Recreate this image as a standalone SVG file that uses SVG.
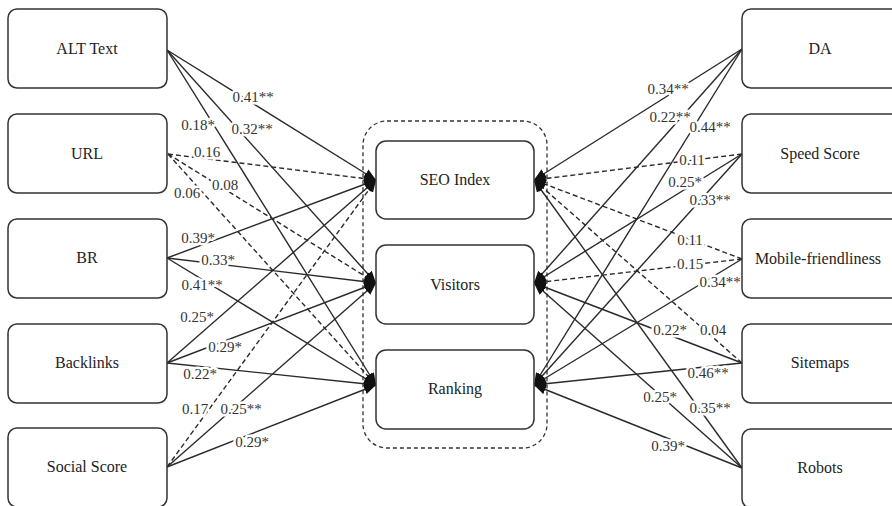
<svg xmlns="http://www.w3.org/2000/svg" width="892" height="506" viewBox="0 0 892 506">
<defs>
<marker id="ah" markerUnits="userSpaceOnUse" markerWidth="13" markerHeight="11" refX="12" refY="5" orient="auto">
<path d="M0,0 L12,5 L0,10 z" fill="#111"/>
</marker>
</defs>
<rect width="892" height="506" fill="#fff"/>
<rect id="group-frame" x="363" y="121" width="184" height="327" rx="24" fill="none" stroke="#333" stroke-width="1.3" stroke-dasharray="4,3"/>
<g id="connectors">
<g fill="none" stroke="#2a2a2a" stroke-width="1.4" marker-end="url(#ah)">
<line x1="167" y1="50" x2="376" y2="180"/>
<line x1="167" y1="50" x2="376" y2="283"/>
<line x1="167" y1="50" x2="376" y2="385"/>
<line x1="167" y1="258" x2="376" y2="180"/>
<line x1="167" y1="258" x2="376" y2="283"/>
<line x1="167" y1="258" x2="376" y2="385"/>
<line x1="167" y1="363" x2="376" y2="180"/>
<line x1="167" y1="363" x2="376" y2="283"/>
<line x1="167" y1="363" x2="376" y2="385"/>
<line x1="167" y1="467" x2="376" y2="283"/>
<line x1="167" y1="467" x2="376" y2="385"/>
<line x1="742" y1="49" x2="534" y2="180"/>
<line x1="742" y1="49" x2="534" y2="283"/>
<line x1="742" y1="49" x2="534" y2="385"/>
<line x1="742" y1="154" x2="534" y2="283"/>
<line x1="742" y1="154" x2="534" y2="385"/>
<line x1="742" y1="259" x2="534" y2="385"/>
<line x1="742" y1="363" x2="534" y2="283"/>
<line x1="742" y1="363" x2="534" y2="385"/>
<line x1="742" y1="468" x2="534" y2="283"/>
<line x1="742" y1="468" x2="534" y2="180"/>
<line x1="742" y1="468" x2="534" y2="385"/>
</g>
<g fill="none" stroke="#2a2a2a" stroke-width="1.4" stroke-dasharray="5,3" marker-end="url(#ah)">
<line x1="168" y1="154" x2="376" y2="180"/>
<line x1="168" y1="154" x2="376" y2="283"/>
<line x1="168" y1="154" x2="376" y2="385"/>
<line x1="167" y1="467" x2="376" y2="180"/>
<line x1="742" y1="154" x2="534" y2="180"/>
<line x1="742" y1="259" x2="534" y2="180"/>
<line x1="742" y1="259" x2="534" y2="283"/>
<line x1="742" y1="363" x2="534" y2="180"/>
</g>
<g id="edge-labels" font-size="15" fill="#333" text-anchor="middle" stroke="#fff" stroke-width="5" paint-order="stroke" stroke-linejoin="round">
<text font-family="Liberation Serif" x="253" y="102">0.41**</text>
<text font-family="Liberation Serif" x="252" y="134">0.32**</text>
<text font-family="Liberation Serif" x="198" y="130">0.18*</text>
<text font-family="Liberation Serif" x="207" y="157">0.16</text>
<text font-family="Liberation Serif" x="225" y="190">0.08</text>
<text font-family="Liberation Serif" x="187" y="198">0.06</text>
<text font-family="Liberation Serif" x="198" y="243">0.39*</text>
<text font-family="Liberation Serif" x="218" y="265">0.33*</text>
<text font-family="Liberation Serif" x="202" y="290">0.41**</text>
<text font-family="Liberation Serif" x="197" y="322">0.25*</text>
<text font-family="Liberation Serif" x="225" y="352">0.29*</text>
<text font-family="Liberation Serif" x="200" y="379">0.22*</text>
<text font-family="Liberation Serif" x="195" y="414">0.17</text>
<text font-family="Liberation Serif" x="241" y="414">0.25**</text>
<text font-family="Liberation Serif" x="252" y="447">0.29*</text>
<text font-family="Liberation Serif" x="668" y="94">0.34**</text>
<text font-family="Liberation Serif" x="670" y="122">0.22**</text>
<text font-family="Liberation Serif" x="710" y="132">0.44**</text>
<text font-family="Liberation Serif" x="692" y="165">0.11</text>
<text font-family="Liberation Serif" x="685" y="187">0.25*</text>
<text font-family="Liberation Serif" x="710" y="205">0.33**</text>
<text font-family="Liberation Serif" x="690" y="245">0.11</text>
<text font-family="Liberation Serif" x="690" y="269">0.15</text>
<text font-family="Liberation Serif" x="720" y="287">0.34**</text>
<text font-family="Liberation Serif" x="670" y="335">0.22*</text>
<text font-family="Liberation Serif" x="713" y="335">0.04</text>
<text font-family="Liberation Serif" x="708" y="378">0.46**</text>
<text font-family="Liberation Serif" x="660" y="402">0.25*</text>
<text font-family="Liberation Serif" x="710" y="413">0.35**</text>
<text font-family="Liberation Serif" x="668" y="451">0.39*</text>
</g>
</g>
<g id="nodes" font-size="16" text-anchor="middle" fill="#222">
<g id="alt-text"><rect x="8" y="9" width="159" height="79" rx="9" fill="#fff" stroke="#333" stroke-width="1.5"/><text font-family="Liberation Serif" x="87" y="54">ALT Text</text></g>
<g id="url"><rect x="8" y="114" width="159" height="79" rx="9" fill="#fff" stroke="#333" stroke-width="1.5"/><text font-family="Liberation Serif" x="87" y="159">URL</text></g>
<g id="br"><rect x="8" y="219" width="159" height="79" rx="9" fill="#fff" stroke="#333" stroke-width="1.5"/><text font-family="Liberation Serif" x="87" y="263">BR</text></g>
<g id="backlinks"><rect x="8" y="324" width="159" height="79" rx="9" fill="#fff" stroke="#333" stroke-width="1.5"/><text font-family="Liberation Serif" x="87" y="368">Backlinks</text></g>
<g id="social-score"><rect x="8" y="428" width="159" height="79" rx="9" fill="#fff" stroke="#333" stroke-width="1.5"/><text font-family="Liberation Serif" x="87" y="472">Social Score</text></g>
<g id="seo-index"><rect x="376" y="141" width="158" height="78" rx="10" fill="#fff" stroke="#333" stroke-width="1.5"/><text font-family="Liberation Serif" x="455" y="185">SEO Index</text></g>
<g id="visitors"><rect x="376" y="245" width="158" height="79" rx="10" fill="#fff" stroke="#333" stroke-width="1.5"/><text font-family="Liberation Serif" x="455" y="290">Visitors</text></g>
<g id="ranking"><rect x="376" y="350" width="158" height="79" rx="10" fill="#fff" stroke="#333" stroke-width="1.5"/><text font-family="Liberation Serif" x="455" y="394">Ranking</text></g>
<g id="da"><rect x="742" y="9" width="160" height="79" rx="9" fill="#fff" stroke="#333" stroke-width="1.5"/><text font-family="Liberation Serif" x="820" y="54">DA</text></g>
<g id="speed-score"><rect x="742" y="114" width="160" height="79" rx="9" fill="#fff" stroke="#333" stroke-width="1.5"/><text font-family="Liberation Serif" x="820" y="159">Speed Score</text></g>
<g id="mobile-friendliness"><rect x="742" y="219" width="160" height="79" rx="9" fill="#fff" stroke="#333" stroke-width="1.5"/><text font-family="Liberation Serif" x="818" y="264">Mobile-friendliness</text></g>
<g id="sitemaps"><rect x="742" y="324" width="160" height="79" rx="9" fill="#fff" stroke="#333" stroke-width="1.5"/><text font-family="Liberation Serif" x="820" y="368">Sitemaps</text></g>
<g id="robots"><rect x="742" y="429" width="160" height="79" rx="9" fill="#fff" stroke="#333" stroke-width="1.5"/><text font-family="Liberation Serif" x="820" y="473">Robots</text></g>
</g>
</svg>
